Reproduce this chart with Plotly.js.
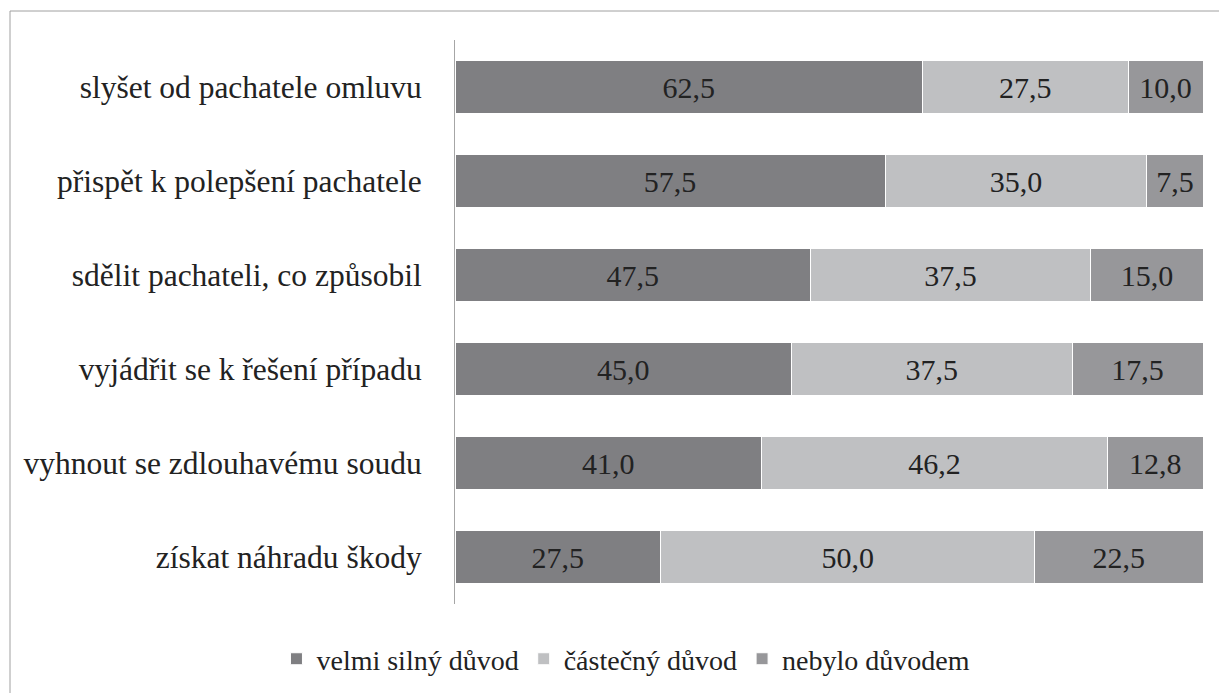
<!DOCTYPE html>
<html>
<head>
<meta charset="utf-8">
<script src="https://cdn.plot.ly/plotly-3.0.1.min.js"></script>
<style>html,body{margin:0;padding:0;background:#fff;}#chart{width:1219px;height:693px;}</style>
</head>
<body>
<div id="chart"></div>
<script>
const categories = [
  "slyšet od pachatele omluvu",
  "přispět k polepšení pachatele",
  "sdělit pachateli, co způsobil",
  "vyjádřit se k řešení případu",
  "vyhnout se zdlouhavému soudu",
  "získat náhradu škody"
];
const seriesNames = ["velmi silný důvod", "částečný důvod", "nebylo důvodem"];
const velmiSilny = [62.5, 57.5, 47.5, 45.0, 41.0, 27.5];
const castecny = [27.5, 35.0, 37.5, 37.5, 46.2, 50.0];
const nebylo = [10.0, 7.5, 15.0, 17.5, 12.8, 22.5];
const colors = ["#7f7f82", "#bfc0c2", "#97979a"];

const font = 'Liberation Serif, Tinos, DejaVu Serif, serif';
const fmt = v => v.toFixed(1).replace('.', ',');

const traces = [velmiSilny, castecny, nebylo].map((vals, i) => ({
  type: 'bar',
  orientation: 'h',
  name: seriesNames[i],
  y: categories,
  x: vals,
  text: vals.map(fmt),
  textposition: 'inside',
  insidetextanchor: 'middle',
  textangle: 0,
  constraintext: 'none',
  textfont: {family: font, size: 30, color: '#222222'},
  marker: {color: colors[i], line: {color: '#ffffff', width: 1}},
  hoverinfo: 'none'
}));

const layout = {
  width: 1219,
  height: 693,
  margin: {l: 455, r: 16, t: 40, b: 89},
  barmode: 'stack',
  bargap: 0.44,
  paper_bgcolor: '#ffffff',
  plot_bgcolor: '#ffffff',
  font: {family: font, size: 31, color: '#222222'},
  showlegend: true,
  legend: {
    orientation: 'h',
    xref: 'container',
    x: 0.5135,
    xanchor: 'center',
    yref: 'container',
    y: 0.049,
    yanchor: 'middle',
    traceorder: 'normal',
    font: {family: font, size: 28, color: '#222222'},
    itemwidth: 30
  },
  xaxis: {
    range: [0, 100],
    showgrid: false,
    zeroline: false,
    showticklabels: false,
    ticks: '',
    showline: false,
    fixedrange: true
  },
  yaxis: {
    autorange: 'reversed',
    showgrid: false,
    zeroline: false,
    showline: true,
    linecolor: '#a6a6a6',
    linewidth: 1,
    ticks: '',
    ticklabelstandoff: 26,
    tickfont: {family: font, size: 31.5, color: '#222222'},
    fixedrange: true
  },
  shapes: [{
    type: 'rect',
    xref: 'paper', yref: 'paper',
    x0: (10 - 455) / 748, x1: (1240 - 455) / 748,
    y0: (604 - 710) / 564, y1: (604 - 11) / 564,
    line: {color: '#a0a0a0', width: 1},
    fillcolor: 'rgba(0,0,0,0)',
    layer: 'below'
  }]
};

Plotly.newPlot('chart', traces, layout, {displayModeBar: false, staticPlot: true});
</script>
</body>
</html>
